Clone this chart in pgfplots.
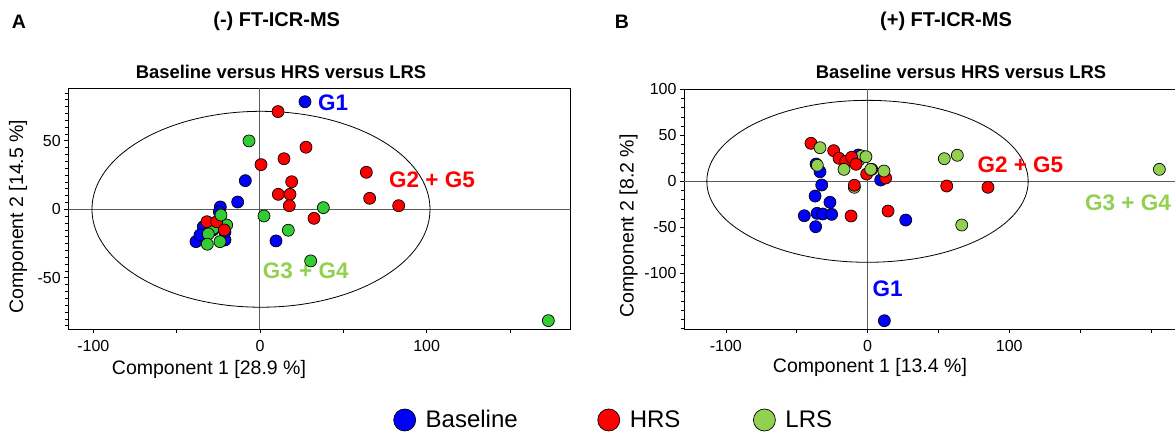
\documentclass[border=0pt]{standalone}
\usepackage{pgfplots}
\pgfplotsset{compat=1.18}
\usepackage{fontspec}
\setmainfont{Liberation Sans}
\definecolor{cblue}{RGB}{0,0,255}
\definecolor{cred}{RGB}{255,0,0}
\definecolor{cgreenA}{RGB}{51,204,51}
\definecolor{cgreenB}{RGB}{146,208,80}
\definecolor{zline}{RGB}{90,90,90}
\begin{document}
\begin{tikzpicture}[x=1pt,y=1pt]
\pgfplotsset{
  pcaaxis/.style={
    scale only axis, anchor=south west,
    axis line style={black, line width=1pt},
    tick align=outside, tick pos=left,
    major tick length=4pt, minor tick length=3.5pt,
    every tick/.style={black, line width=0.6pt},
    ticklabel style={font=\fontsize{16}{18}\selectfont},
    xticklabel style={yshift=-4pt},
    /pgf/number format/assume math mode=true,
    label style={font=\fontsize{19.5}{22}\selectfont},
  },
  mk/.style={only marks, mark=*, mark size=6pt, mark options={draw=black, line width=0.7pt, fill=#1}, forget plot},
}
% ---------------- Panel A ----------------
\begin{axis}[pcaaxis, at={(68.3pt,-329pt)}, width=502.4pt, height=240.7pt,
  xmin=-115, xmax=186.4, ymin=-87.4, ymax=88.3,
  xtick={-100,0,100}, minor xtick={-50,50,150},
  ytick={-50,0,50}, minor ytick={-85,-80,...,85},
  xlabel={Component 1 [28.9 \%]}, ylabel={Component 2 [14.5 \%]},
  xlabel style={at={(axis description cs:0.28,-0.17)}, anchor=center},
  ylabel style={at={(axis description cs:-0.100,0.467)}, anchor=center},
  legend style={at={(axis description cs:1.086,-0.378)}, anchor=center, draw=none, fill=none,
    legend columns=3, font=\fontsize{24}{26}\selectfont,
    /tikz/every odd column/.append style={column sep=8pt},
    /tikz/column 2/.style={column sep=78pt},
    /tikz/column 4/.style={column sep=71pt}},
]
\draw[zline, line width=1pt] (axis cs:0,-87.4) -- (axis cs:0,88.3);
\draw[zline, line width=1pt] (axis cs:-115,0) -- (axis cs:186.4,0);
\draw[black, line width=0.8pt] (axis cs:0.6,0) ellipse [x radius=101.4, y radius=71.5];
\addplot[mk=cblue] coordinates {
 (27.0,78.5) (-8.8,20.9) (-13.4,5.3) (-23.8,1.7) (9.6,-23.1) (-38.4,-23.6)
 (-34.0,-12.7) (-36.0,-18.8) (-21.0,-22.4) (-24.4,-1.8) (-28.2,-15.1) (-21.0,-16.6)
};
\addplot[mk=cgreenA] coordinates {
 (-20.0,-11.5) (-28.0,-13.9)
};
\addplot[mk=cred] coordinates {
 (10.8,71.3) (27.6,45.3) (14.4,36.9) (0.6,32.6) (19.0,20.1) (11.0,10.9)
 (18.0,10.9) (17.6,2.6) (32.4,-6.6) (-31.8,-9.1) (-26.0,-9.1) (-21.4,-15.1)
 (63.8,27.0) (65.8,8.0) (83.2,2.6)
};
\addplot[mk=cgreenA] coordinates {
 (-6.6,49.9) (2.4,-4.9) (17.0,-15.3) (38.0,1.2) (30.4,-37.7) (-23.4,-4.2)
 (-31.0,-18.0) (-31.6,-25.5) (-24.0,-23.6) (173.0,-81.3)
};
\node[anchor=west, inner sep=0pt, text=cblue, font=\bfseries\fontsize{22.5}{24}\selectfont] at (axis cs:34.8,77.6) {G1};
\node[anchor=west, inner sep=0pt, text=cred, font=\bfseries\fontsize{22.5}{24}\selectfont] at (axis cs:77.4,21.4) {G2 + G5};
\node[anchor=west, inner sep=0pt, text=cgreenB, font=\bfseries\fontsize{22.5}{24}\selectfont] at (axis cs:1.6,-44.8) {G3 + G4};
\addlegendimage{only marks, mark=*, mark size=11pt, mark options={draw=black, line width=0.7pt, fill=cblue}}
\addlegendimage{only marks, mark=*, mark size=11pt, mark options={draw=black, line width=0.7pt, fill=cred}}
\addlegendimage{only marks, mark=*, mark size=11pt, mark options={draw=black, line width=0.7pt, fill=cgreenB}}
\legend{Baseline, HRS, LRS}
\end{axis}
% ---------------- Panel B ----------------
\begin{axis}[pcaaxis, at={(684pt,-329pt)}, width=509.4pt, height=239.7pt,
  xmin=-129.5, xmax=230, ymin=-160.5, ymax=100,
  xtick={-100,0,100}, minor xtick={-50,50,150,200},
  ytick={-100,-50,0,50,100}, minor ytick={-160,-150,...,100},
  xlabel={Component 1 [13.4 \%]}, ylabel={Component 2 [8.2 \%]},
  xlabel style={at={(axis description cs:0.365,-0.16)}, anchor=center},
  ylabel style={at={(axis description cs:-0.109,0.43)}, anchor=center},
]
\draw[zline, line width=1pt] (axis cs:0,-160.5) -- (axis cs:0,100);
\draw[zline, line width=1pt] (axis cs:-129.5,0) -- (axis cs:230,0);
\draw[black, line width=0.8pt] (axis cs:0,0) ellipse [x radius=113.4, y radius=88];
\addplot[mk=cblue] coordinates {
 (11.9,-151.5) (-36.6,-49.3) (-44.6,-37.4) (-35.6,-34.8) (-31.6,-35.5) (-25.3,-35.9)
 (-37.0,-16.0) (-26.5,-22.8) (-32.3,-4.0) (-33.5,10.4) (-36.3,18.8) (9.3,1.4)
 (27.0,-42.1) (-6.5,28.6)
};
\addplot[mk=cgreenB] coordinates {
 (-35.4,17.4) (-9.3,-6.5) (-6.0,23.2) (-4.1,27.5)
};
\addplot[mk=cred] coordinates {
 (-39.9,41.3) (-23.9,33.3) (-20.1,25.0) (-15.4,21.7) (-11.2,26.1) (-8.1,18.5)
 (-0.6,7.9) (3.0,13.0) (-9.3,-4.3) (-11.6,-37.7) (12.8,3.6) (14.5,-32.3)
 (55.9,-5.1) (85.0,-6.5)
};
\addplot[mk=cgreenB] coordinates {
 (-33.5,36.5) (-16.6,13.0) (-1.1,26.7) (2.3,13.0) (11.6,11.2)
 (54.2,24.6) (63.4,28.3) (66.5,-47.5) (206.0,13.0)
};
\node[anchor=west, inner sep=0pt, text=cblue, font=\bfseries\fontsize{22.5}{24}\selectfont] at (axis cs:3.4,-116.3) {G1};
\node[anchor=west, inner sep=0pt, text=cred, font=\bfseries\fontsize{22.5}{24}\selectfont] at (axis cs:77.5,17.7) {G2 + G5};
\node[anchor=west, inner sep=0pt, text=cgreenB, font=\bfseries\fontsize{22.5}{24}\selectfont] at (axis cs:153.5,-23.3) {G3 + G4};
\end{axis}
% ---------------- Titles ----------------
\node[font=\bfseries\fontsize{19.5}{22}\selectfont] at (19pt,-21.7pt) {A};
\node[font=\bfseries\fontsize{20}{22}\selectfont] at (276.7pt,-21.7pt) {(-) FT-ICR-MS};
\node[font=\bfseries\fontsize{18.4}{22}\selectfont] at (281pt,-72pt) {Baseline versus HRS versus LRS};
\node[font=\bfseries\fontsize{19.5}{22}\selectfont] at (622pt,-21.7pt) {B};
\node[font=\bfseries\fontsize{20}{22}\selectfont] at (946pt,-21.7pt) {(+) FT-ICR-MS};
\node[font=\bfseries\fontsize{18.4}{22}\selectfont] at (961pt,-72pt) {Baseline versus HRS versus LRS};
\pgfresetboundingbox
\path[use as bounding box] (0pt,0pt) rectangle (1175pt,-433pt);
\end{tikzpicture}
\end{document}
